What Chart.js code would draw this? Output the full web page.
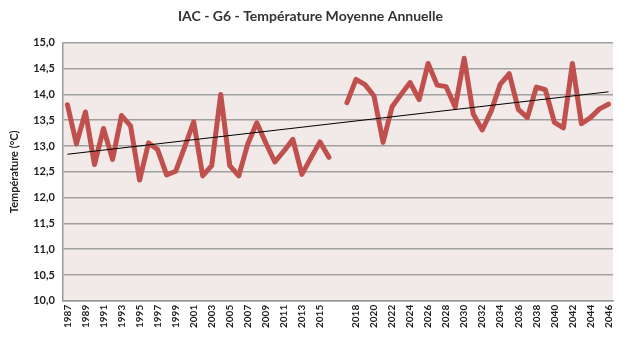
<!DOCTYPE html>
<html>
<head>
<meta charset="utf-8">
<script src="https://cdn.jsdelivr.net/npm/chart.js@4"></script>
<style>
    html, body { margin: 0; padding: 0; background: #ffffff; }
    #wrap { width: 636px; height: 344px; }
</style>
</head>
<body>
<div id="wrap"><canvas id="chart" width="636" height="344"></canvas></div>
<script>
// years, with one empty slot between 2016 and 2017
const years = [
    '1987', '1988', '1989', '1990', '1991', '1992', '1993', '1994', '1995', '1996',
    '1997', '1998', '1999', '2000', '2001', '2002', '2003', '2004', '2005', '2006',
    '2007', '2008', '2009', '2010', '2011', '2012', '2013', '2014', '2015', '2016',
    '',
    '2017', '2018', '2019', '2020', '2021', '2022', '2023', '2024', '2025', '2026',
    '2027', '2028', '2029', '2030', '2031', '2032', '2033', '2034', '2035', '2036',
    '2037', '2038', '2039', '2040', '2041', '2042', '2043', '2044', '2045', '2046'
];

const tempPast = [
    13.80, 13.04, 13.66, 12.64, 13.34, 12.74, 13.59, 13.39, 12.34, 13.06,
    12.93, 12.44, 12.51, 12.98, 13.47, 12.42, 12.62, 14.00, 12.62, 12.42,
    13.04, 13.45, 13.06, 12.69, 12.90, 13.13, 12.45, 12.77, 13.08, 12.78
];

const tempFuture = [
    13.84, 14.29, 14.19, 13.97, 13.07, 13.76, 14.00, 14.23, 13.90, 14.60,
    14.18, 14.15, 13.75, 14.70, 13.62, 13.31, 13.68, 14.20, 14.40, 13.71,
    13.55, 14.14, 14.09, 13.46, 13.35, 14.60, 13.43, 13.55, 13.72, 13.81
];

// trend line end points
const trendStart = 12.84;
const trendEnd = 14.05;

const yTicks = [10, 10.5, 11, 11.5, 12, 12.5, 13, 13.5, 14, 14.5, 15];

const temps = tempPast.concat([null], tempFuture);

const plotBackground = {
    id: 'plotBackground',
    beforeDraw(chart) {
        const { ctx, chartArea } = chart;
        ctx.save();
        ctx.fillStyle = '#f2eae9';
        ctx.fillRect(chartArea.left, chartArea.top, chartArea.width, chartArea.height);
        ctx.restore();
    }
};

const font = 'Lato, "Open Sans", sans-serif';

new Chart(document.getElementById('chart'), {
    type: 'line',
    data: {
        labels: years,
        datasets: [{
            label: 'Température',
            data: temps,
            borderColor: '#c0504d',
            borderWidth: 5,
            pointRadius: 0,
            tension: 0,
            spanGaps: false,
            borderJoinStyle: 'round',
            borderCapStyle: 'round',
            order: 2
        }, {
            label: 'Tendance',
            data: [{ x: years[0], y: trendStart }, { x: years[years.length - 1], y: trendEnd }],
            borderColor: '#000000',
            borderWidth: 1,
            pointRadius: 0,
            order: 1
        }]
    },
    options: {
        responsive: false,
        animation: false,
        layout: { padding: { left: 8, right: 23, top: 0, bottom: 12 } },
        plugins: {
            legend: { display: false },
            tooltip: { enabled: false },
            title: {
                display: true,
                text: 'IAC - G6 - Température Moyenne Annuelle',
                color: '#333333',
                font: { family: font, size: 14, weight: 'bold' },
                padding: { top: 8, bottom: 18 }
            }
        },
        scales: {
            x: {
                type: 'category',
                offset: true,
                grid: { display: false, drawTicks: false },
                border: { display: true, color: '#999999', width: 1.5 },
                ticks: {
                    autoSkip: false,
                    maxRotation: 90,
                    minRotation: 90,
                    padding: 4,
                    color: '#222222',
                    font: { family: font, size: 10, weight: 'bold' },
                    callback: function (value, index) {
                        return index % 2 === 0 ? years[index] : '';
                    }
                }
            },
            y: {
                min: 10,
                max: 15,
                afterBuildTicks: function (axis) {
                    axis.ticks = yTicks.map(v => ({ value: v }));
                },
                grid: { color: '#a0a0a0', lineWidth: 1.5, drawTicks: false },
                border: { display: true, color: '#999999', width: 1.5 },
                ticks: {
                    padding: 8,
                    color: '#222222',
                    font: { family: font, size: 11, weight: 'bold' },
                    callback: v => v.toFixed(1).replace('.', ',')
                },
                title: {
                    display: true,
                    text: 'Température (°C)',
                    color: '#222222',
                    font: { family: font, size: 11, weight: 'bold' },
                    padding: { top: 0, bottom: 4 }
                }
            }
        }
    },
    plugins: [plotBackground]
});
</script>
</body>
</html>
